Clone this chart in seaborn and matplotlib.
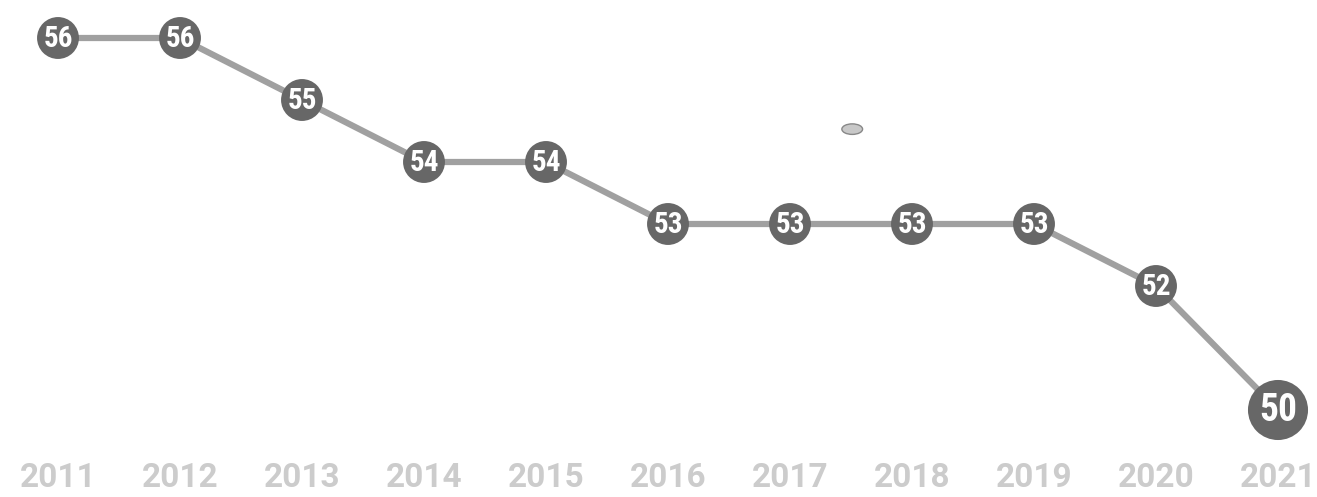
import pandas as pd
import seaborn as sns
import matplotlib.pyplot as plt
from matplotlib.patches import Ellipse

# data
years = [2011, 2012, 2013, 2014, 2015, 2016, 2017, 2018, 2019, 2020, 2021]
values = [56, 56, 55, 54, 54, 53, 53, 53, 53, 52, 50]

df = pd.DataFrame({'year': years, 'value': values})

sns.set_style('white')
plt.rcParams['font.family'] = ['Roboto', 'DejaVu Sans']

fig = plt.figure(figsize=(13.17, 4.97), dpi=100)
ax = fig.add_axes([0, 0, 1, 1])

# connecting line
sns.lineplot(data=df, x='year', y='value', ax=ax, color='#a0a0a0', linewidth=4.5,
             zorder=1, legend=False)

# circles, last one bigger
sizes = [910] * (len(df) - 1) + [1870]
ax.scatter(df['year'], df['value'], s=sizes, color='#676767', zorder=2, linewidths=0)

for i, row in df.iterrows():
    last = i == len(df) - 1
    ax.text(row['year'], row['value'] - 0.01, str(row['value']), ha='center', va='center',
            color='white', fontweight='bold', fontsize=27 if last else 21,
            family=['Roboto Condensed', 'Roboto', 'DejaVu Sans'], zorder=3)

# year labels along the bottom
for y in years:
    ax.text(y, 48.90, str(y), ha='center', va='center', color='#cccccc',
            fontweight='bold', fontsize=24)

# little grey blob in the middle
ax.add_patch(Ellipse((2017.51, 54.53), 0.17, 0.17, angle=0, facecolor='#c8c8c8',
                     edgecolor='#888888', linewidth=1, zorder=1))

ax.set_xlim(2011 - 58 / 122, 2011 + (1317 - 58) / 122)
ax.set_ylim(56 - 459 / 62, 56 + 38 / 62)
ax.axis('off')

fig.savefig('out.png', dpi=100, facecolor='white')
plt.close()
